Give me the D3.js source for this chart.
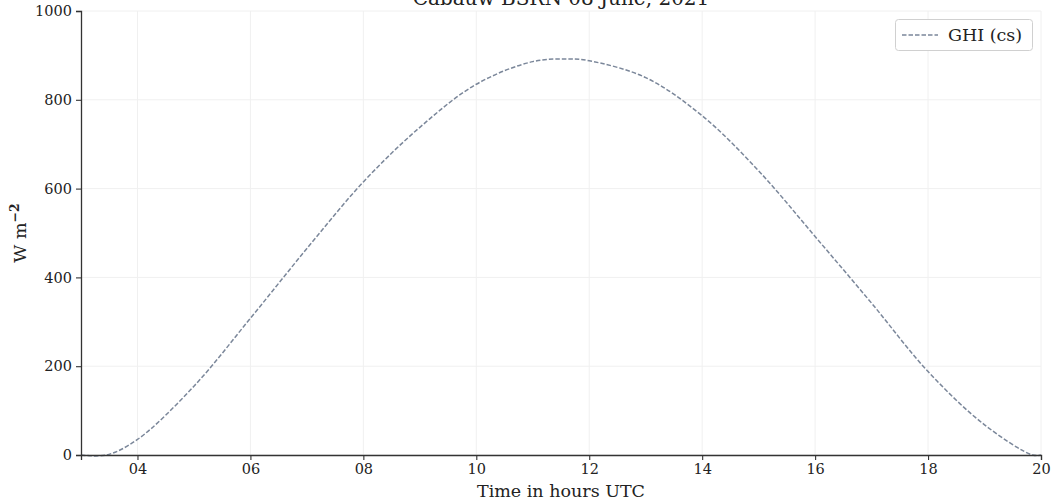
<!DOCTYPE html>
<html><head><meta charset="utf-8">
<script src="https://cdn.jsdelivr.net/npm/d3@7/dist/d3.min.js"></script>
<style>
body{margin:0;background:#fff;}
text{font-family:"DejaVu Serif",serif;fill:#222;}
</style></head>
<body><svg id="chart" width="1053" height="502"></svg>
<script>
const hours = [3.0, 3.45, 4, 5, 6, 7, 8, 9, 10, 11, 11.65, 12, 13, 14, 15, 16, 17, 18, 19, 19.85, 20.0];
const ghiCs = [0, 0, 35, 155, 308, 465, 615, 738, 835, 886, 892, 888, 850, 764, 640, 492, 342, 188, 68, 0, 0];
const xTicks = [4, 6, 8, 10, 12, 14, 16, 18, 20];
const yTicks = [0, 200, 400, 600, 800, 1000];
const titleText = "Cabauw BSRN 08 June, 2021";
const seriesName = "GHI (cs)";

const svg = d3.select("#chart");
const L = 81, R = 1041, T = 11, B = 455;
const x = d3.scaleLinear().domain([3, 20]).range([L, R]);
const y = d3.scaleLinear().domain([0, 1000]).range([B, T]);

// grid
const g = svg.append("g");
g.selectAll(".gx").data(xTicks).enter().append("line")
  .attr("x1", d => x(d)).attr("x2", d => x(d)).attr("y1", T).attr("y2", B)
  .attr("stroke", "#f0f0f0").attr("stroke-width", 1);
g.selectAll(".gy").data(yTicks).enter().append("line")
  .attr("x1", L).attr("x2", R).attr("y1", d => y(d)).attr("y2", d => y(d))
  .attr("stroke", "#f0f0f0").attr("stroke-width", 1);

// line
const data = hours.map((h, i) => ({h, v: ghiCs[i]}));
svg.append("path").datum(data)
  .attr("fill", "none").attr("stroke", "#7b879a").attr("stroke-width", 1.5)
  .attr("stroke-dasharray", "4.5,2")
  .attr("d", d3.line().x(d => x(d.h)).y(d => Math.min(y(0), y(d.v))).curve(d3.curveCatmullRom.alpha(0.5)));

// axes
const xAxis = svg.append("g").attr("transform", `translate(0,${B})`)
  .call(d3.axisBottom(x).tickValues(xTicks).tickFormat(d => String(d).padStart(2, "0")).tickSizeOuter(0).tickSize(5).tickPadding(4));
const yAxis = svg.append("g").attr("transform", `translate(${L},0)`)
  .call(d3.axisLeft(y).tickValues(yTicks).tickFormat(d => String(d)).tickSizeOuter(0).tickSize(5).tickPadding(4));
[xAxis, yAxis].forEach(a => {
  a.select(".domain").attr("stroke", "#333").attr("stroke-width", 1.3);
  a.selectAll(".tick line").attr("stroke", "#333").attr("stroke-width", 1.1);
  a.selectAll(".tick text").attr("font-family", "DejaVu Serif").attr("font-size", 14.5).attr("fill", "#222");
});

// title
svg.append("text").attr("x", (L + R) / 2).attr("y", 5).attr("text-anchor", "middle")
  .attr("font-size", 20).text(titleText);

// axis labels
svg.append("text").attr("x", (L + R) / 2).attr("y", 497).attr("text-anchor", "middle")
  .attr("font-size", 17.5).text("Time in hours UTC");
const yl = svg.append("text").attr("transform", `translate(26,${(T + B) / 2}) rotate(-90)`)
  .attr("text-anchor", "middle").attr("font-size", 17.5);
yl.append("tspan").text("W m");
yl.append("tspan").attr("dy", -7).attr("font-size", 12.5).attr("font-weight", "bold").text("−2");

// legend
const lg = svg.append("g");
lg.append("rect").attr("x", 895.5).attr("y", 19.5).attr("width", 137).attr("height", 31)
  .attr("rx", 3).attr("fill", "#fff").attr("stroke", "#d0d0d0");
lg.append("line").attr("x1", 902).attr("x2", 938).attr("y1", 35).attr("y2", 35)
  .attr("stroke", "#7b879a").attr("stroke-width", 1.5).attr("stroke-dasharray", "4.5,2");
lg.append("text").attr("x", 948).attr("y", 41).attr("font-size", 17.5).text(seriesName);
</script></body></html>
